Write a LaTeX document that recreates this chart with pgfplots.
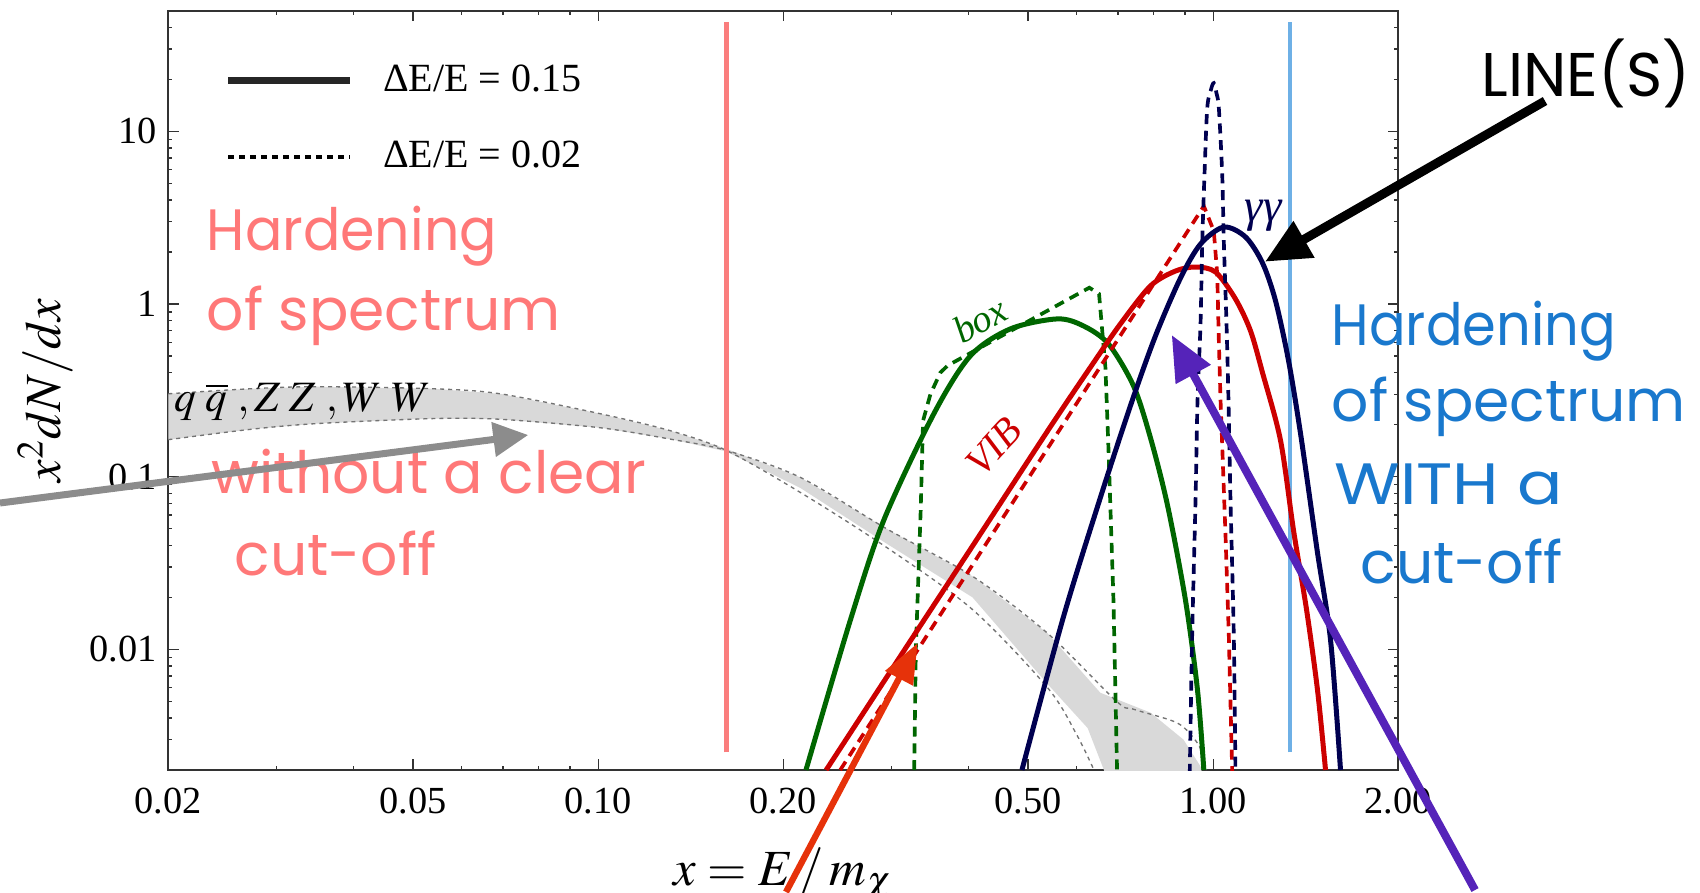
\documentclass[border=0pt]{standalone}
\usepackage{mathptmx}
\usepackage[no-math]{fontspec}
\setmainfont{Liberation Serif}
\newfontfamily\comic{Poppins}
\usepackage{pgfplots}
\pgfplotsset{compat=1.18}
\usetikzlibrary{arrows.meta}
\definecolor{cgreen}{RGB}{0,102,0}
\definecolor{cred}{RGB}{204,0,0}
\definecolor{cnavy}{RGB}{0,0,80}
\definecolor{cpink}{RGB}{250,125,125}
\definecolor{cblue}{RGB}{110,176,230}
\definecolor{tblue}{RGB}{25,120,205}
\definecolor{tpink}{RGB}{255,120,120}
\definecolor{agray}{RGB}{140,140,140}
\definecolor{aorange}{RGB}{230,50,10}
\definecolor{apurple}{RGB}{85,35,185}
\definecolor{bandgray}{RGB}{217,217,217}
\begin{document}
\begin{tikzpicture}
\useasboundingbox (-50.49pt,-36.6pt) rectangle (459.51pt,231pt);
\begin{axis}[
  scale only axis, width=369pt, height=227.8pt,
  at={(0pt,0pt)}, anchor=south west,
  xmode=log, ymode=log,
  xmin=0.02, xmax=2, ymin=0.002, ymax=50,
  xtick={0.02,0.05,0.1,0.2,0.5,1,2},
  xticklabels={0.02,0.05,0.10,0.20,0.50,1.00,2.00},
  minor xtick={0.03,0.04,0.06,0.07,0.08,0.09,0.3,0.4,0.6,0.7,0.8,0.9},
  ytick={0.01,0.1,1,10},
  yticklabels={0.01,0.1,1,10},
  minor ytick={0.003,0.004,0.005,0.006,0.007,0.008,0.009,0.02,0.03,0.04,0.05,0.06,0.07,0.08,0.09,0.2,0.3,0.4,0.5,0.6,0.7,0.8,0.9,2,3,4,5,6,7,8,9,20,30,40},
  major tick length=3.2pt, minor tick length=1.2pt,
  tick style={black!80, line width=0.4pt},
  axis line style={black!80, line width=0.6pt},
  tick label style={font=\fontsize{11.5}{11.5}\selectfont},
  xticklabel style={yshift=-2pt},
  xlabel={$x = E\,/\,m_{\chi}$},
  ylabel={$x^{2}dN/dx$},
  label style={font=\fontsize{15.2}{15.2}\selectfont},
  xlabel style={at={(axis description cs:0.5,0)}, anchor=base, yshift=-34.5pt},
  ylabel style={at={(axis description cs:-0.0998,0.5)}, anchor=center},
  legend style={at={(rel axis cs:0.0453,0.93)}, anchor=north west, draw=none, fill=none,
    font=\fontsize{12}{12}\selectfont, row sep=13.5pt, inner sep=0pt,
    nodes={inner sep=0pt},
    /tikz/every odd column/.append style={column sep=9pt}},
  legend cell align=left,
  legend image code/.code={\draw[#1] (0pt,0pt) -- (36.5pt,0pt);},
]
\addlegendimage{black!85, line width=2pt}
\addlegendentry{ΔE/E = 0.15}
\addlegendimage{black, line width=1pt, dash pattern=on 1.8pt off 1.5pt}
\addlegendentry{ΔE/E = 0.02}

% gray band (q qbar, ZZ, WW)
\addplot[fill=bandgray, draw=none, forget plot] coordinates {
 (0.02,0.302) (0.0272,0.323) (0.0349,0.332) (0.0539,0.323) (0.0693,0.302)
 (0.1008,0.2315) (0.131,0.1846) (0.1615,0.145) (0.2132,0.099) (0.2942,0.050)
 (0.4061,0.0265) (0.5378,0.0124) (0.6556,0.0056) (0.7909,0.0043) (0.8947,0.0030)
 (0.9537,0.0021) (0.96,0.0019)
 (0.668,0.0019) (0.625,0.0035) (0.5378,0.0063) (0.4061,0.020) (0.2942,0.041)
 (0.2132,0.086) (0.1615,0.14) (0.131,0.165) (0.1008,0.192) (0.0693,0.215)
 (0.0539,0.217) (0.0349,0.203) (0.0272,0.188) (0.02,0.1638)} --cycle;
\addplot[black!55, line width=0.4pt, dash pattern=on 1.2pt off 1.2pt, smooth, forget plot] coordinates {
 (0.02,0.302) (0.0272,0.323) (0.0349,0.332) (0.0539,0.323) (0.0693,0.302)
 (0.1008,0.2315) (0.131,0.1846) (0.1615,0.142) (0.2132,0.081) (0.2942,0.039)
 (0.4061,0.0170) (0.5378,0.006) (0.6,0.0032) (0.64,0.002)};
\addplot[black!55, line width=0.4pt, dash pattern=on 1.2pt off 1.2pt, smooth, forget plot] coordinates {
 (0.02,0.1638) (0.0272,0.188) (0.0349,0.203) (0.0539,0.217) (0.0693,0.215)
 (0.1008,0.192) (0.131,0.165) (0.1615,0.142) (0.2132,0.099) (0.2942,0.050)
 (0.4061,0.0265) (0.5378,0.0124) (0.6965,0.0050) (0.742,0.0045) (0.875,0.00374)
 (0.943,0.00286) (0.965,0.0023) (0.975,0.002)};

% vertical markers
\addplot[cpink, line width=1.4pt, forget plot] coordinates {(0.1615,0.00253) (0.1615,43)};
\addplot[cblue, line width=1.2pt, forget plot] coordinates {(1.332,0.00253) (1.332,43)};

% box
\addplot[cgreen, line width=1.5pt, smooth, forget plot] coordinates {
 (0.2177,0.002) (0.257,0.01472) (0.2912,0.0557) (0.3512,0.2306) (0.4029,0.501)
 (0.468,0.7177) (0.558,0.82) (0.6152,0.7468) (0.6756,0.5877) (0.742,0.336)
 (0.7907,0.1682) (0.843,0.0681) (0.9016,0.0192) (0.943,0.0058) (0.9656,0.002)};
\addplot[cgreen, line width=1.1pt, dash pattern=on 3pt off 2pt, forget plot] coordinates {
 (0.3265,0.002) (0.3285,0.01) (0.3345,0.0637) (0.3375,0.2109) (0.3469,0.3)
 (0.36,0.40) (0.37,0.44) (0.629,1.243) (0.6523,1.144) (0.668,0.4286)
 (0.6756,0.1478) (0.6885,0.0192) (0.698,0.0019)};

% VIB
\addplot[cred, line width=1.5pt, smooth, forget plot] coordinates {
 (0.2348,0.002) (0.31,0.00912) (0.4107,0.04213) (0.5437,0.1948) (0.6387,0.4564)
 (0.7066,0.767) (0.7907,1.272) (0.8685,1.553) (0.936,1.638) (1.0088,1.532)
 (1.087,1.07) (1.15,0.699) (1.203,0.3995) (1.287,0.1616) (1.351,0.0488)
 (1.419,0.01682) (1.478,0.0058) (1.523,0.002)};
\addplot[cred, line width=1.1pt, dash pattern=on 3pt off 2pt, forget plot] coordinates {
 (0.2475,0.002) (0.9656,3.69) (1.0023,2.645) (1.0153,1.486) (1.0214,0.6115)
 (1.028,0.2753) (1.047,0.0469) (1.060,0.01239) (1.074,0.0019)};

% gamma gamma
\addplot[cnavy, line width=1.5pt, smooth, forget plot] coordinates {
 (0.4887,0.002) (0.5706,0.01532) (0.6532,0.0727) (0.7337,0.2575) (0.8057,0.6537)
 (0.8849,1.415) (0.9537,2.224) (1.0406,2.790) (1.129,2.442) (1.203,1.727)
 (1.263,1.042) (1.326,0.469) (1.387,0.1774) (1.476,0.0374) (1.552,0.01128)
 (1.611,0.002)};
\addplot[cnavy, line width=1.1pt, dash pattern=on 3pt off 2pt, smooth, forget plot] coordinates {
 (0.916,0.0019) (0.9245,0.01239) (0.936,0.0727) (0.943,0.2753) (0.9537,0.767)
 (0.960,2.315) (0.968,5.62) (0.978,13.65) (0.992,17.5) (1.0023,19.04)
 (1.0125,16.6) (1.0214,13.65) (1.0344,5.62) (1.0406,2.315) (1.0512,0.767)
 (1.059,0.2753) (1.067,0.0727) (1.080,0.01239) (1.087,0.0019)};
\end{axis}

\begin{scope}[x=0.3pt,y=-0.3pt,shift={(-50.49pt,231pt)}]
% curve labels
\node[cgreen, rotate=29, font=\itshape\fontsize{11.5}{11.5}\selectfont, inner sep=0] at (980,320) {box};
\node[cred, rotate=47, font=\itshape\fontsize{12}{12}\selectfont, inner sep=0] at (994,447) {VIB};
\node[cnavy, font=\itshape\fontsize{14}{14}\selectfont, inner sep=0] at (1263,216) {γγ};
\node[black, anchor=base west, font=\fontsize{13}{13}\selectfont, inner sep=0] at (174,411) {$q\;\overline{q}\;,Z\;Z\;,W\;W$};
% comic annotations
\node[tpink, anchor=base west, font=\comic\fontsize{17.5}{17.5}\selectfont, inner sep=0] at (206,251) {\scalebox{0.95}[1]{Hardening}};
\node[tpink, anchor=base west, font=\comic\fontsize{17.5}{17.5}\selectfont, inner sep=0] at (206,331) {of spectrum};
\node[tpink, anchor=base west, font=\comic\fontsize{17.5}{17.5}\selectfont, inner sep=0] at (211,493) {without a clear};
\node[tpink, anchor=base west, font=\comic\fontsize{17.5}{17.5}\selectfont, inner sep=0] at (234,575) {cut-off};
\node[tblue, anchor=base west, font=\comic\fontsize{17.5}{17.5}\selectfont, inner sep=0] at (1331,345) {\scalebox{0.93}[1]{Hardening}};
\node[tblue, anchor=base west, font=\comic\fontsize{17.5}{17.5}\selectfont, inner sep=0] at (1331,421) {of spectrum};
\node[tblue, anchor=base west, font=\comic\fontsize{17.5}{17.5}\selectfont, inner sep=0] at (1334,504) {\scalebox{1.15}[1]{WITH a}};
\node[tblue, anchor=base west, font=\comic\fontsize{17.5}{17.5}\selectfont, inner sep=0] at (1360,583) {cut-off};
\node[black, anchor=base west, font=\comic\fontsize{18.5}{18.5}\selectfont, inner sep=0] at (1481,97) {LINE(S)};
% arrows
\draw[agray, line width=2.1pt, -{Triangle[length=10.5pt,width=10pt]}] (0,503) -- (528.3,435);
\draw[black, line width=2.7pt, -{Triangle[length=13.5pt,width=12pt]}] (1545,101) -- (1265,261.7);
\draw[aorange, line width=1.9pt, -{Triangle[length=12pt,width=9pt]}] (786,892) -- (917.7,643);
\draw[apurple, line width=2.4pt, -{Triangle[length=13.5pt,width=11.4pt]}] (1475,890) -- (1171.7,335);
\end{scope}
\end{tikzpicture}
\end{document}
